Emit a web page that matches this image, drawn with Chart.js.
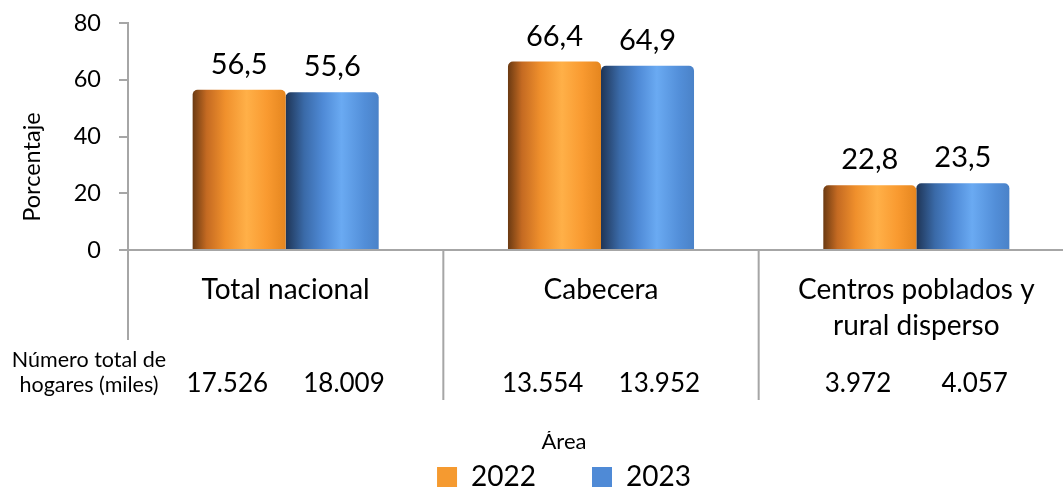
<!DOCTYPE html>
<html>
<head>
<meta charset="utf-8">
<script src="https://cdn.jsdelivr.net/npm/chart.js@4/dist/chart.umd.min.js"></script>
<style>
  html, body { margin:0; padding:0; background:#fff; overflow:hidden; }
  #wrap { width:1063px; height:493px; overflow:hidden; position:relative; }
  canvas { display:block; }
</style>
</head>
<body>
<div id="wrap"><canvas id="c" width="1128" height="501" style="width:1128px;height:501px"></canvas></div>
<script>
// ---- data ----
const categories = ['Total nacional', 'Cabecera', ['Centros poblados y', 'rural disperso']];
const seriesNames = ['2022', '2023'];
const pct2022 = [56.5, 66.4, 22.8];
const pct2023 = [55.6, 64.9, 23.5];
const hogares2022 = [17526, 13554, 3972];   // miles
const hogares2023 = [18009, 13952, 4057];   // miles
const yTicks = [0, 20, 40, 60, 80];
const rowHeader = ['Número total de', 'hogares (miles)'];
const yTitle = 'Porcentaje';
const xTitle = 'Área';

const FONT = 'Lato, "Open Sans", sans-serif';
const flatColors = ['#f59a30', '#4f8ad6'];
const gradStops = [
  [[0,'#6b3a12'],[0.15,'#c46a22'],[0.35,'#f0902c'],[0.58,'#ffb048'],[0.8,'#f99a30'],[1,'#e5861f']],
  [[0,'#1f3556'],[0.2,'#3a6aa8'],[0.4,'#4f8ad6'],[0.6,'#6aaaf2'],[0.85,'#528ed8'],[1,'#4a82c8']]
];
const axisGray = '#a6a6a6';

const fmtDec = v => v.toFixed(1).replace('.', ',');
const fmtThousands = v => String(v).replace(/\B(?=(\d{3})+(?!\d))/g, '.');

const gradPlugin = {
  id: 'grad',
  beforeDatasetsDraw(chart) {
    const ctx = chart.ctx;
    chart.data.datasets.forEach((ds, di) => {
      chart.getDatasetMeta(di).data.forEach(bar => {
        const l = bar.x - bar.width / 2, r = bar.x + bar.width / 2;
        const g = ctx.createLinearGradient(l, 0, r, 0);
        gradStops[di].forEach(([o, c]) => g.addColorStop(o, c));
        bar.options = Object.assign({}, bar.options, { backgroundColor: g });
      });
    });
  }
};

const textPlugin = {
  id: 'texts',
  afterDraw(chart) {
    const ctx = chart.ctx;
    const xs = chart.scales.x;
    const area = chart.chartArea;
    const n = categories.length;
    const catW = (area.right - area.left) / n;
    ctx.save();
    // separators below the axis
    ctx.strokeStyle = axisGray;
    ctx.lineWidth = 2;
    ctx.beginPath();
    ctx.moveTo(area.left, area.bottom);
    ctx.lineTo(area.left, 340);
    for (let i = 1; i <= n; i++) {
      const x = area.left + i * catW;
      ctx.moveTo(x, area.bottom);
      ctx.lineTo(x, 400);
    }
    ctx.stroke();

    // data labels
    ctx.fillStyle = '#000';
    ctx.textAlign = 'center';
    ctx.textBaseline = 'alphabetic';
    ctx.font = '29px ' + FONT;
    chart.data.datasets.forEach((ds, di) => {
      chart.getDatasetMeta(di).data.forEach((bar, i) => {
        ctx.fillText(fmtDec(ds.data[i]), bar.x, bar.y - 16);
      });
    });

    // household numbers row
    ctx.font = '26px ' + FONT;
    const rows = [hogares2022, hogares2023];
    for (let i = 0; i < n; i++) {
      const c = xs.getPixelForValue(i);
      ctx.fillText(fmtThousands(rows[0][i]), c - 0.185 * catW, 392);
      ctx.fillText(fmtThousands(rows[1][i]), c + 0.185 * catW, 392);
    }
    // row header
    ctx.font = '21.5px ' + FONT;
    ctx.fillText(rowHeader[0], 89, 367);
    ctx.fillText(rowHeader[1], 89, 392);

    // y title
    ctx.save();
    ctx.translate(32, 167);
    ctx.rotate(-Math.PI / 2);
    ctx.font = '23.5px ' + FONT;
    ctx.textBaseline = 'middle';
    ctx.fillText(yTitle, 0, 0);
    ctx.restore();
    ctx.restore();
  }
};

new Chart(document.getElementById('c'), {
  type: 'bar',
  data: {
    labels: categories,
    datasets: [
      { label: seriesNames[0], data: pct2022, backgroundColor: () => flatColors[0] },
      { label: seriesNames[1], data: pct2023, backgroundColor: () => flatColors[1] }
    ]
  },
  options: {
    responsive: false,
    animation: false,
    devicePixelRatio: 1,
    layout: { padding: { top: 23, left: 0, right: 0, bottom: 0 } },
    datasets: { bar: { categoryPercentage: 0.59, barPercentage: 1, borderRadius: 5, borderWidth: 0 } },
    plugins: {
      tooltip: { enabled: false },
      legend: {
        position: 'bottom',
        align: 'center',
        title: { display: true, text: xTitle, color: '#000', font: { family: FONT, size: 22 }, padding: { top: 0, bottom: -50.4 } },
        labels: {
          color: '#000',
          font: { family: FONT, size: 28 },
          boxWidth: 20, boxHeight: 20, padding: 56,
          generateLabels: chart => chart.data.datasets.map((ds, i) => ({
            text: ds.label, fillStyle: flatColors[i], strokeStyle: flatColors[i], lineWidth: 0, datasetIndex: i
          }))
        }
      }
    },
    scales: {
      x: {
        grid: { display: false, drawTicks: false },
        border: { display: true, color: axisGray, width: 2 },
        ticks: { color: '#000', font: { family: FONT, size: 28, lineHeight: 1.29 }, padding: 21.5, maxRotation: 0, autoSkip: false },
        afterFit(s) { s.height = s.chart.height - 250 - s.chart.legend.height; }
      },
      y: {
        min: 0, max: 80,
        afterBuildTicks(s) { s.ticks = yTicks.map(v => ({ value: v })); },
        grid: { display: true, drawOnChartArea: false, drawTicks: true, tickLength: 9, color: axisGray, lineWidth: 2 },
        border: { display: true, color: axisGray, width: 2 },
        ticks: { color: '#000', font: { family: FONT, size: 23.5 }, padding: 18 },
        afterFit(s) { s.width = 128; s.paddingTop = 0; s.paddingBottom = 0; }
      },
      y2: {
        position: 'right',
        display: true,
        min: 0, max: 80,
        grid: { display: false, drawTicks: false },
        border: { display: false },
        ticks: { display: false },
        afterFit(s) { s.width = 54; s.paddingTop = 0; s.paddingBottom = 0; }
      }
    }
  },
  plugins: [gradPlugin, textPlugin]
});
</script>
</body>
</html>
